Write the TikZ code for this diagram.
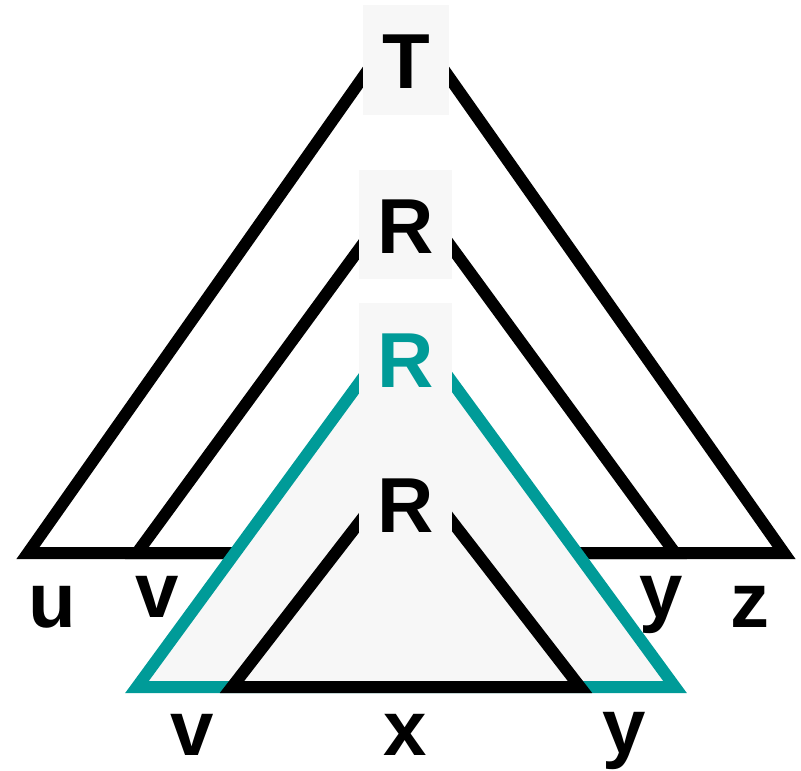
\documentclass[tikz,border=0pt]{standalone}
\usepackage{fontspec}
\setmainfont{Liberation Sans}
\definecolor{boxgray}{RGB}{247,247,247}
\definecolor{tealline}{RGB}{0,155,152}
\tikzset{
  tri/.style={line width=12pt, line join=miter},
  lbox/.style={fill=boxgray, minimum width=93pt, minimum height=109pt, inner sep=0pt},
  letter/.style={font=\fontsize{78}{80}\selectfont\bfseries, anchor=base, inner sep=0pt}
}
\begin{document}
\begin{tikzpicture}[x=1pt,y=-1pt]
        \useasboundingbox (0,0) rectangle (801,771);

        % Outer triangle T
        \coordinate (tl) at (28,553);
        \coordinate (tt) at (406,16);
        \coordinate (tr) at (784,553);
        \draw[tri] (tl) -- (tt) -- (tr) -- cycle;

        % Middle triangle R
        \coordinate (ml) at (137,553);
        \coordinate (mt) at (406,185);
        \coordinate (mr) at (675,553);
        \draw[tri] (ml) -- (mt) -- (mr) -- cycle;

        % Boxes and letters at the apexes
        \node[lbox, minimum width=86pt, minimum height=110pt] (tbox) at (406,60) {};
        \node[letter] (tlab) at (406,88) {T};
        \node[lbox] (mbox) at (405.5,224.5) {};
        \node[letter] (mlab) at (406,253) {R};

        % Teal triangle R, filled
        \coordinate (cl) at (137,687);
        \coordinate (ct) at (406,319);
        \coordinate (cr) at (675,687);
        \draw[tri, tealline, fill=boxgray] (cl) -- (ct) -- (cr) -- cycle;
        \node[lbox] (cbox) at (405.5,357.5) {};
        \node[letter, tealline] (clab) at (406,387) {R};

        % Inner triangle R
        \coordinate (il) at (232,687);
        \coordinate (it) at (406,462);
        \coordinate (ir) at (580,687);
        \draw[tri] (il) -- (it) -- (ir) -- cycle;
        \node[lbox, minimum height=115pt] (ibox) at (405.5,505) {};
        \node[letter] (ilab) at (406,532) {R};

        % Leaf labels
        \node[letter] (u) at (52,627) {u};
        \node[letter] (v1) at (157,617) {v};
        \node[letter] (y1) at (661,617) {y};
        \node[letter] (z) at (750,627) {z};
        \node[letter] (v2) at (192,755) {v};
        \node[letter] (x) at (405,755) {x};
        \node[letter] (y2) at (624,753) {y};
\end{tikzpicture}
\end{document}
